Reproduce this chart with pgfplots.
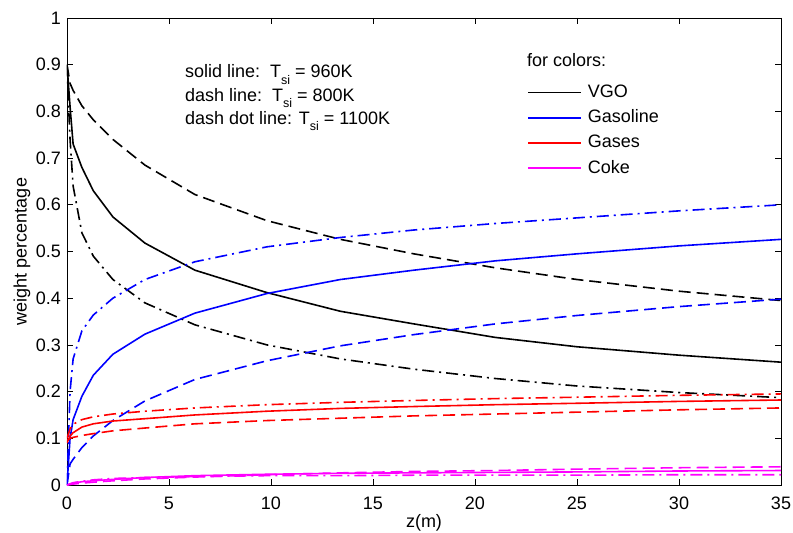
\documentclass[border=0pt]{standalone}
\usepackage{fontspec}
\setmainfont{Liberation Sans}
\usepackage{pgfplots}
\pgfplotsset{compat=1.18}

\definecolor{mblue}{rgb}{0,0,1}
\definecolor{mred}{rgb}{1,0,0}
\definecolor{mmag}{rgb}{1,0,1}

\tikzset{
  solidl/.style={line width=1.6pt, solid},
  dashl/.style={line width=1.6pt, dash pattern=on 12pt off 6pt},
  dotdashl/.style={line width=1.6pt, dash pattern=on 12pt off 5pt on 2pt off 5pt},
}
\newcommand{\Tsi}{T\raisebox{-6.5pt}{\fontsize{12.5}{12.5}\selectfont si}}

\begin{document}
\fontsize{18}{21}\selectfont
\begin{tikzpicture}
\begin{axis}[
  scale only axis, width=714pt, height=467pt,
  xmin=0, xmax=35, ymin=0, ymax=1,
  xtick={0,5,10,15,20,25,30,35},
  ytick={0,0.1,0.2,0.3,0.4,0.5,0.6,0.7,0.8,0.9,1},
  tick align=inside, major tick length=6pt,
  tick style={black, line width=0.6pt},
  axis line style={line width=0.9pt},
  /pgf/number format/assume math mode=true,
  /pgf/number format/fixed,
  tick label style={font=\fontsize{18}{21}\selectfont},
  xticklabel style={yshift=-6pt},
  xlabel={z(m)}, ylabel={weight percentage},
  label style={font=\fontsize{18}{21}\selectfont},
  xlabel style={at={(axis description cs:0.5,-0.081)}, anchor=center},
  ylabel style={at={(axis description cs:-0.063,0.5)}, anchor=center},
  legend style={draw=none, fill=none, at={(rel axis cs:0.640,0.866)}, anchor=north west,
    font=\fontsize{18}{21}\selectfont, row sep=5.8pt, column sep=4pt},
  legend cell align=left,
  legend image code/.code={\draw[#1] (0pt,0pt) -- (53pt,0pt);},
]
\coordinate (sw) at (rel axis cs:0,0);
\coordinate (ne) at (rel axis cs:1,1);

% VGO
\addplot[black, solidl, forget plot] coordinates {(0,0.9)(0.15,0.81)(0.3,0.73)(0.73,0.68)(1.29,0.63)(2.25,0.574)(3.82,0.518)(6.27,0.46)(9.8,0.412)(13.4,0.372)(17,0.345)(21,0.316)(25,0.296)(30,0.278)(35,0.263)};
\addplot[black, dashl, forget plot] coordinates {(0,0.9)(0.15,0.86)(0.3,0.845)(0.73,0.812)(1.29,0.782)(2.25,0.74)(3.82,0.685)(6.27,0.622)(9.8,0.566)(13.4,0.526)(17,0.495)(21,0.465)(25,0.44)(30,0.415)(35,0.395)};
\addplot[black, dotdashl, forget plot] coordinates {(0,0.9)(0.05,0.84)(0.15,0.74)(0.3,0.64)(0.73,0.54)(1.29,0.49)(2.25,0.44)(3.82,0.39)(6.27,0.343)(9.8,0.30)(13.4,0.27)(17,0.248)(21,0.228)(25,0.212)(30,0.198)(35,0.187)};

% Gasoline
\addplot[mblue, solidl, forget plot] coordinates {(0,0)(0.15,0.1)(0.3,0.14)(0.73,0.19)(1.29,0.235)(2.25,0.28)(3.82,0.323)(6.27,0.368)(9.8,0.41)(13.4,0.44)(17,0.46)(21,0.48)(25,0.495)(30,0.512)(35,0.526)};
\addplot[mblue, dashl, forget plot] coordinates {(0,0)(0.15,0.045)(0.3,0.055)(0.73,0.08)(1.29,0.105)(2.25,0.138)(3.82,0.18)(6.27,0.226)(9.8,0.266)(13.4,0.298)(17,0.322)(21,0.345)(25,0.363)(30,0.382)(35,0.398)};
\addplot[mblue, dotdashl, forget plot] coordinates {(0,0)(0.15,0.2)(0.3,0.27)(0.73,0.33)(1.29,0.364)(2.25,0.40)(3.82,0.44)(6.27,0.478)(9.8,0.51)(13.4,0.53)(17,0.546)(21,0.56)(25,0.572)(30,0.587)(35,0.60)};

% Gases
\addplot[mred, solidl, forget plot] coordinates {(0,0.09)(0.15,0.105)(0.3,0.112)(0.73,0.124)(1.29,0.131)(2.25,0.137)(3.82,0.142)(6.27,0.15)(9.8,0.158)(13.4,0.164)(17,0.168)(21,0.172)(25,0.175)(30,0.179)(35,0.182)};
\addplot[mred, dashl, forget plot] coordinates {(0,0.095)(0.15,0.1)(0.3,0.102)(0.73,0.106)(1.29,0.11)(2.25,0.116)(3.82,0.122)(6.27,0.131)(9.8,0.138)(13.4,0.143)(17,0.148)(21,0.152)(25,0.156)(30,0.161)(35,0.165)};
\addplot[mred, dotdashl, forget plot] coordinates {(0,0.1)(0.15,0.12)(0.3,0.13)(0.73,0.14)(1.29,0.146)(2.25,0.152)(3.82,0.158)(6.27,0.165)(9.8,0.172)(13.4,0.177)(17,0.181)(21,0.185)(25,0.188)(30,0.192)(35,0.195)};

% Coke
\addplot[mmag, solidl, forget plot] coordinates {(0,0)(0.3,0.004)(0.73,0.007)(1.29,0.009)(2.25,0.012)(3.82,0.016)(6.27,0.02)(9.8,0.023)(13.4,0.025)(17,0.026)(21,0.027)(25,0.028)(30,0.03)(35,0.031)};
\addplot[mmag, dashl, forget plot] coordinates {(0,0)(0.3,0.002)(0.73,0.004)(1.29,0.006)(2.25,0.009)(3.82,0.013)(6.27,0.017)(9.8,0.022)(13.4,0.026)(17,0.029)(21,0.031)(25,0.034)(30,0.037)(35,0.039)};
\addplot[mmag, dotdashl, forget plot] coordinates {(0,0)(0.3,0.005)(0.73,0.008)(1.29,0.011)(2.25,0.014)(3.82,0.016)(6.27,0.018)(9.8,0.02)(13.4,0.02)(17,0.021)(21,0.021)(25,0.021)(30,0.022)(35,0.022)};

\addlegendimage{color=black, line width=1.8pt, solid}\addlegendentry{VGO}
\addlegendimage{color=mblue, line width=1.8pt, solid}\addlegendentry{Gasoline}
\addlegendimage{color=mred, line width=1.8pt, solid}\addlegendentry{Gases}
\addlegendimage{color=mmag, line width=1.8pt, solid}\addlegendentry{Coke}

\node[anchor=base west, inner sep=0pt] at (axis cs:22.55,0.896) {for colors:};
\node[anchor=base west, inner sep=0pt] at (axis cs:5.78,0.872) {solid line:\ \ \Tsi{} = 960K};
\node[anchor=base west, inner sep=0pt] at (axis cs:5.78,0.822) {dash line:\ \ \Tsi{} = 800K};
\node[anchor=base west, inner sep=0pt] at (axis cs:5.78,0.772) {dash dot line: \Tsi{} = 1100K};
\end{axis}
\pgfresetboundingbox
\path ([shift={(-67pt,-48pt)}]sw) rectangle ([shift={(12pt,18pt)}]ne);
\end{tikzpicture}
\end{document}
